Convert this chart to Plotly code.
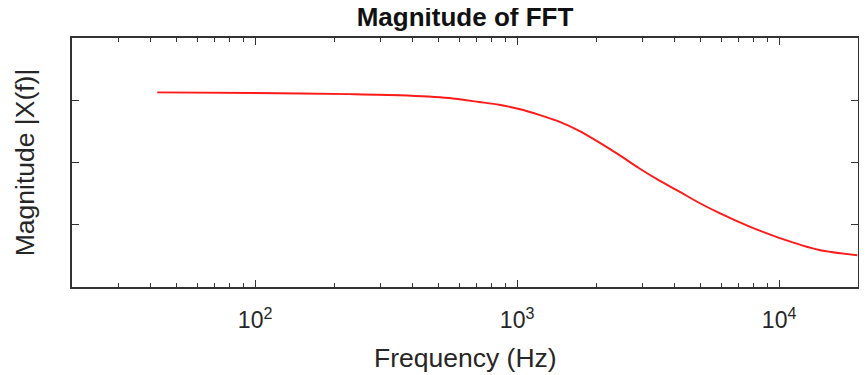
import plotly.graph_objects as go

# Data (frequency in Hz, magnitude in arbitrary units)
freq_hz = [42.3, 100, 228.6, 354.8, 549.5, 716, 853, 1018, 1214, 1447, 1726, 2056, 2451,
           2922, 3483, 4153, 4864, 5899, 7676, 10000, 14220, 19870]
magnitude = [3.127, 3.117, 3.098, 3.081, 3.036, 2.972, 2.928, 2.859, 2.766, 2.658, 2.509, 2.324, 2.122,
             1.908, 1.712, 1.535, 1.37, 1.19, 0.975, 0.79, 0.595, 0.511]

x_tick_vals = [100, 1000, 10000]
x_tick_text = ["10<sup>2</sup>", "10<sup>3</sup>", "10<sup>4</sup>"]
x_minor_vals = [20, 30, 40, 50, 60, 70, 80, 90,
                200, 300, 400, 500, 600, 700, 800, 900,
                2000, 3000, 4000, 5000, 6000, 7000, 8000, 9000, 20000]
y_tick_vals = [0, 1, 2, 3, 4]

title_text = "Magnitude of FFT"
x_title = "Frequency (Hz)"
y_title = "Magnitude |X(f)|"

axis_color = "#333333"
font_family = "Liberation Sans, Arial, Helvetica, sans-serif"

fig = go.Figure()
fig.add_trace(go.Scatter(
    x=freq_hz, y=magnitude, mode="lines",
    line=dict(color="#ff1a1a", width=1.9, shape="spline", smoothing=0.7),
    showlegend=False,
))

# The page body has an 8px default margin; the figure is offset by it.
fig.update_layout(
    width=859, height=367,
    margin=dict(l=64, r=9, t=30, b=88),
    paper_bgcolor="white", plot_bgcolor="white",
    font=dict(family=font_family, color="#262626", size=22),
    title=dict(text="<b>" + title_text + "</b>", xref="paper", x=0.5, xanchor="center",
               yref="container", y=0.9755, yanchor="middle", font=dict(size=26, color="#111111")),
    annotations=[dict(text=x_title, xref="paper", yref="paper", x=0.5, y=0,
                      xanchor="center", yanchor="middle", yshift=-71, showarrow=False,
                      font=dict(size=26.5, color="#262626"))],
)

fig.update_xaxes(
    type="log", range=[1.30103, 4.30103], automargin=False,
    tickvals=x_tick_vals, ticktext=x_tick_text,
    ticks="inside", ticklen=7, tickwidth=1.2, tickcolor=axis_color,
    ticklabelstandoff=12,
    minor=dict(tickvals=x_minor_vals, ticks="inside", ticklen=4, tickwidth=1.2,
               tickcolor=axis_color, showgrid=False),
    showline=True, linecolor=axis_color, linewidth=1.5, mirror="ticks",
    showgrid=False, zeroline=False,
    tickfont=dict(size=23, color="#262626"),
)
fig.update_yaxes(
    range=[0, 4], tickvals=y_tick_vals, showticklabels=False, automargin=False,
    ticks="inside", ticklen=7, tickwidth=1.2, tickcolor=axis_color,
    showline=True, linecolor=axis_color, linewidth=1.5, mirror="ticks",
    showgrid=False, zeroline=False,
    title=dict(text=y_title, font=dict(size=26.5, color="#262626"), standoff=28),
)

fig.write_html("out.html")
